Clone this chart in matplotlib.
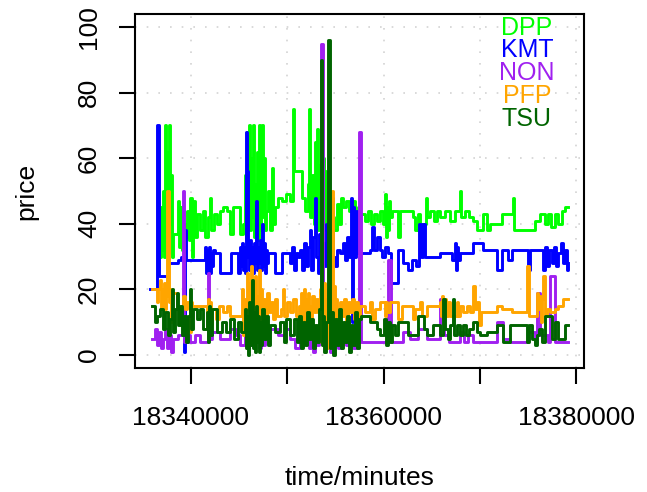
import numpy as np
import matplotlib
matplotlib.use("Agg")
import matplotlib.pyplot as plt

plt.rcParams['font.family'] = ['Liberation Sans', 'DejaVu Sans']

dpp_t = [18336.78, 18336.89, 18336.99, 18337.10, 18337.20, 18337.30, 18337.41, 18337.51, 18337.61, 18337.72,
         18337.82, 18337.93, 18338.03, 18338.13, 18338.65, 18338.76, 18338.86, 18339.07, 18339.17, 18339.38,
         18339.59, 18339.79, 18339.90, 18340.10, 18340.21, 18340.41, 18340.62, 18340.93, 18341.24, 18341.45,
         18341.76, 18341.97, 18342.07, 18342.39, 18342.70, 18343.01, 18343.32, 18343.73, 18344.05, 18344.36,
         18345.08, 18345.39, 18345.60, 18345.71, 18345.81, 18345.91, 18346.02, 18346.12, 18346.22, 18346.33,
         18346.43, 18346.54, 18346.64, 18346.74, 18346.85, 18346.95, 18347.05, 18347.16, 18347.26, 18347.36,
         18347.47, 18347.57, 18347.68, 18347.78, 18347.99, 18348.19, 18348.40, 18348.51, 18348.71, 18349.02,
         18349.44, 18349.85, 18350.27, 18350.58, 18350.68, 18351.51, 18351.83, 18352.14, 18352.24, 18352.34,
         18352.55, 18352.76, 18352.86, 18352.97, 18353.07, 18353.17, 18353.28, 18353.38, 18353.48, 18353.59,
         18353.69, 18353.80, 18353.90, 18354.00, 18354.11, 18354.21, 18354.31, 18354.52, 18354.63, 18354.83,
         18355.14, 18355.35, 18355.56, 18355.77, 18356.08, 18356.39, 18356.70, 18357.01, 18357.32, 18357.53,
         18358.05, 18358.36, 18358.67, 18358.98, 18359.29, 18359.61, 18359.92, 18360.12, 18360.23, 18360.33,
         18360.43, 18360.54, 18360.64, 18360.85, 18361.47, 18361.68, 18363.03, 18363.24, 18363.55, 18363.75,
         18364.38, 18364.48, 18364.79, 18365.21, 18365.52, 18365.83, 18366.35, 18366.87, 18367.38, 18367.90,
         18368.01, 18368.42, 18368.84, 18369.25, 18369.67, 18370.29, 18370.71, 18371.02, 18372.26, 18373.40,
         18373.51, 18375.68, 18376.20, 18376.72, 18377.03, 18377.34, 18377.76, 18378.07, 18378.48, 18378.80,
         18379.11]
dpp_v = [30, 45, 32, 50, 30, 70, 35, 62, 31, 70,
         40, 55, 30, 37, 47, 33, 45, 32, 40, 36,
         44, 35, 48, 30, 47, 36, 43, 38, 44, 36,
         42, 48, 38, 43, 40, 44, 45, 44, 37, 45,
         37, 40, 55, 35, 68, 40, 70, 38, 60, 42,
         70, 36, 52, 40, 62, 35, 70, 38, 48, 70,
         42, 60, 38, 44, 50, 38, 57, 40, 45, 48,
         47, 49, 47, 75, 56, 48, 44, 52, 75, 42,
         55, 40, 65, 45, 69, 38, 58, 44, 66, 40,
         60, 45, 56, 38, 52, 42, 48, 40, 42, 38,
         46, 40, 48, 45, 47, 44, 47, 43, 45, 43,
         41, 44, 40, 43, 41, 44, 40, 49, 36, 45,
         38, 47, 42, 44, 36, 44, 42, 38, 43, 40,
         48, 42, 44, 41, 44, 42, 44, 41, 44, 50,
         42, 44, 42, 41, 38, 43, 38, 40, 43, 48,
         38, 41, 43, 40, 43, 39, 43, 40, 44, 45,
         45]

kmt_t = [18335.75, 18336.47, 18336.68, 18337.61, 18338.65, 18338.96, 18339.27, 18339.38, 18339.48,
         18341.45, 18341.56, 18341.66, 18341.76, 18341.87, 18341.97, 18342.07, 18342.18, 18342.28, 18342.49,
         18343.01, 18344.15, 18344.88, 18345.08, 18345.19, 18345.29, 18345.39, 18345.50, 18345.60, 18345.71,
         18345.81, 18345.91, 18346.02, 18346.12, 18346.22, 18346.33, 18346.43, 18346.54, 18346.64, 18346.74,
         18346.85, 18346.95, 18347.05, 18347.16, 18347.26, 18347.36, 18347.47, 18347.57, 18347.68, 18347.78,
         18347.88, 18347.99, 18348.71, 18349.44, 18350.27, 18350.48, 18350.68, 18350.89, 18351.10, 18351.31,
         18351.51, 18351.72, 18351.93, 18352.14, 18352.34, 18352.45, 18352.66, 18352.86, 18352.97, 18353.17,
         18353.28, 18353.48, 18353.69, 18353.90, 18354.00, 18354.21, 18354.31, 18354.52, 18354.63, 18354.73,
         18354.94, 18355.14, 18355.46, 18355.77, 18355.97, 18356.18, 18356.39, 18356.60, 18356.70, 18356.80,
         18356.91, 18357.12, 18357.22, 18357.43, 18357.53, 18358.57, 18358.78, 18358.98, 18359.29, 18359.61,
         18359.81, 18360.12, 18360.43, 18360.75, 18361.47, 18361.99, 18362.51, 18362.92, 18363.34, 18363.65,
         18363.86, 18364.07, 18364.27, 18365.83, 18367.07, 18367.38, 18367.49, 18367.59, 18367.70, 18367.90,
         18369.25, 18370.29, 18371.74, 18372.26, 18372.88, 18373.30, 18374.96, 18375.16, 18376.51, 18376.72,
         18376.93, 18377.14, 18377.45, 18377.65, 18377.86, 18378.07, 18378.38, 18378.59, 18378.80, 18379.00,
         18379.11]
kmt_v = [20, 70, 24, 28, 29, 30, 1, 38, 29,
         33, 25, 32, 26, 33, 25, 31, 27, 32, 31,
         25, 31, 25, 33, 27, 34, 26, 33, 25, 68,
         56, 30, 26, 35, 27, 33, 25, 34, 28, 47,
         26, 33, 28, 35, 26, 40, 27, 34, 25, 32,
         28, 31, 25, 31, 28, 33, 26, 31, 30, 32,
         26, 34, 27, 33, 38, 26, 36, 48, 30, 25,
         37, 28, 34, 27, 40, 29, 33, 26, 48, 30,
         27, 32, 31, 34, 29, 36, 30, 48, 10, 45,
         30, 44, 31, 35, 31, 32, 39, 32, 36, 32,
         30, 33, 31, 22, 32, 28, 26, 29, 27, 40,
         30, 40, 30, 31, 29, 34, 26, 33, 29, 31,
         34, 32, 26, 32, 29, 32, 26, 32, 26, 33,
         27, 32, 28, 33, 27, 31, 34, 28, 32, 26,
         28]

non_t = [18335.95, 18336.27, 18336.47, 18336.68, 18336.89, 18337.10, 18337.30, 18337.51, 18337.72, 18337.93,
         18338.13, 18338.65, 18339.17, 18339.27, 18339.69, 18339.90, 18340.41, 18340.93, 18341.76, 18341.87,
         18342.18, 18343.01, 18344.05, 18344.67, 18345.08, 18345.60, 18345.81, 18346.02, 18346.22, 18346.43,
         18346.64, 18346.85, 18347.05, 18347.26, 18347.47, 18347.68, 18348.19, 18349.02, 18349.75, 18350.27,
         18350.79, 18351.31, 18351.83, 18352.03, 18352.24, 18352.45, 18352.66, 18352.86, 18353.07, 18353.28,
         18353.48, 18353.69, 18354.00, 18354.42, 18354.83, 18355.25, 18355.66, 18356.08, 18356.49, 18356.80,
         18357.12, 18357.43, 18357.63, 18360.43, 18360.75, 18361.99, 18362.72, 18363.55, 18364.48, 18365.83,
         18366.24, 18366.76, 18367.90, 18368.32, 18368.73, 18369.25, 18371.74, 18372.37, 18373.09, 18374.96,
         18375.68, 18375.89, 18376.20, 18377.03, 18377.24, 18377.76, 18379.11]
non_v = [5, 8, 3, 7, 2, 5, 8, 2, 6, 1,
         5, 6, 50, 4, 6, 4, 6, 4, 25, 5,
         7, 5, 8, 6, 3, 8, 2, 7, 3, 9,
         4, 8, 2, 6, 3, 7, 8, 6, 8, 5,
         2, 7, 4, 10, 2, 8, 1, 6, 3, 9,
         95, 3, 6, 1, 5, 2, 6, 3, 8, 2,
         6, 68, 4, 29, 4, 7, 5, 8, 5, 17,
         6, 4, 7, 4, 6, 4, 10, 5, 4, 7,
         4, 19, 6, 4, 24, 4, 4]

pfp_t = [18335.95, 18336.47, 18336.58, 18336.78, 18336.89, 18336.99, 18337.10, 18337.20, 18337.30, 18337.41,
         18337.51, 18337.72, 18337.82, 18337.93, 18338.03, 18338.13, 18338.55, 18338.86, 18338.96, 18339.17,
         18339.38, 18339.59, 18339.90, 18340.00, 18340.10, 18341.66, 18341.76, 18341.87, 18341.97, 18342.07,
         18342.18, 18342.59, 18342.90, 18343.32, 18343.73, 18344.05, 18345.29, 18345.39, 18345.50, 18345.60,
         18345.81, 18345.91, 18346.02, 18346.12, 18346.22, 18346.33, 18346.43, 18346.54, 18346.64, 18346.74,
         18346.85, 18346.95, 18347.05, 18347.16, 18347.26, 18347.36, 18347.47, 18347.68, 18347.88, 18348.09,
         18348.30, 18348.51, 18348.71, 18348.92, 18349.34, 18349.54, 18349.65, 18349.96, 18350.27, 18350.58,
         18350.89, 18351.20, 18351.31, 18351.41, 18351.51, 18351.62, 18351.72, 18351.83, 18351.93, 18352.03,
         18352.14, 18352.24, 18352.34, 18352.45, 18352.55, 18352.76, 18352.97, 18353.17, 18353.38, 18353.48,
         18353.59, 18353.69, 18353.80, 18353.90, 18354.00, 18354.11, 18354.21, 18354.31, 18354.42, 18354.52,
         18354.63, 18354.73, 18354.83, 18354.94, 18355.04, 18355.14, 18355.46, 18355.66, 18355.87, 18356.08,
         18356.29, 18356.49, 18356.70, 18356.91, 18357.12, 18357.32, 18357.53, 18358.05, 18358.57, 18358.78,
         18359.09, 18359.61, 18360.12, 18360.23, 18360.33, 18360.64, 18361.47, 18361.89, 18363.03, 18363.24,
         18363.75, 18363.96, 18364.48, 18365.83, 18365.93, 18366.04, 18366.14, 18366.24, 18366.45, 18366.66,
         18366.87, 18367.59, 18367.70, 18367.90, 18368.21, 18368.63, 18368.94, 18369.25, 18369.46, 18369.67,
         18369.88, 18370.08, 18371.74, 18372.26, 18373.30, 18374.85, 18375.06, 18375.89, 18375.99, 18376.20,
         18376.31, 18376.41, 18376.51, 18376.72, 18376.93, 18377.24, 18377.76, 18378.07, 18378.59, 18379.11]
pfp_v = [20, 16, 20, 23, 14, 20, 15, 22, 14, 18,
         50, 16, 20, 10, 17, 19, 14, 9, 15, 18,
         14, 16, 7, 16, 15, 8, 17, 7, 16, 9,
         14, 11, 15, 13, 15, 12, 20, 6, 17, 13,
         25, 8, 22, 5, 27, 10, 20, 6, 24, 12,
         18, 7, 26, 10, 20, 8, 17, 12, 19, 13,
         16, 11, 17, 12, 14, 20, 12, 16, 13, 17,
         12, 15, 10, 19, 8, 16, 20, 9, 17, 12,
         19, 7, 15, 11, 18, 13, 17, 13, 20, 4,
         18, 8, 22, 6, 17, 2, 20, 9, 19, 5,
         50, 12, 21, 7, 17, 11, 16, 12, 17, 10,
         16, 13, 17, 11, 16, 12, 15, 13, 16, 11,
         14, 16, 12, 16, 13, 16, 11, 15, 11, 14,
         16, 12, 15, 16, 12, 18, 11, 17, 12, 16,
         12, 16, 12, 15, 13, 15, 13, 21, 14, 16,
         9, 13, 15, 14, 13, 27, 12, 19, 14, 18,
         10, 17, 24, 12, 14, 13, 14, 15, 17, 17]

tsu_t = [18335.95, 18336.27, 18336.47, 18336.78, 18337.10, 18337.30, 18337.61, 18337.82, 18338.03,
         18338.13, 18338.34, 18338.55, 18338.65, 18338.86, 18339.07, 18339.27, 18339.48, 18339.69, 18339.90,
         18340.00, 18340.21, 18340.62, 18340.93, 18341.24, 18341.66, 18341.76, 18341.87, 18341.97, 18342.18,
         18342.70, 18343.22, 18343.63, 18344.05, 18344.46, 18344.88, 18345.19, 18345.60, 18345.71, 18345.81,
         18345.91, 18346.02, 18346.12, 18346.22, 18346.33, 18346.43, 18346.54, 18346.64, 18346.74, 18346.85,
         18346.95, 18347.05, 18347.16, 18347.26, 18347.36, 18347.57, 18347.78, 18347.99, 18348.19, 18348.71,
         18349.23, 18349.65, 18349.85, 18350.27, 18350.68, 18351.00, 18351.20, 18351.41, 18351.62, 18351.83,
         18352.03, 18352.24, 18352.45, 18352.66, 18352.86, 18353.07, 18353.28, 18353.48, 18353.59, 18353.69,
         18353.80, 18354.00, 18354.21, 18354.42, 18354.52, 18354.73, 18354.94, 18355.14, 18355.35, 18355.56,
         18355.77, 18355.97, 18356.18, 18356.39, 18356.60, 18356.80, 18357.01, 18357.22, 18357.43, 18357.63,
         18358.57, 18359.29, 18359.61, 18360.02, 18360.23, 18360.43, 18360.64, 18360.85, 18361.16, 18361.47,
         18362.51, 18363.55, 18364.17, 18364.48, 18365.10, 18365.83, 18366.14, 18366.35, 18366.66, 18366.87,
         18367.18, 18367.28, 18367.59, 18367.90, 18368.21, 18368.53, 18368.84, 18369.25, 18369.67, 18369.98,
         18370.71, 18371.74, 18372.37, 18373.09, 18374.85, 18375.06, 18375.37, 18375.68, 18375.89, 18376.10,
         18376.41, 18376.72, 18377.45, 18377.76, 18378.07, 18378.80, 18379.11]
tsu_v = [15, 10, 12, 14, 8, 13, 6, 11, 20,
         7, 14, 19, 9, 15, 6, 12, 4, 12, 20,
         8, 14, 11, 14, 8, 13, 4, 15, 6, 14,
         7, 10, 7, 11, 5, 10, 7, 14, 2, 12,
         0, 16, 3, 11, 23, 2, 13, 1, 15, 4,
         12, 1, 10, 3, 14, 5, 12, 3, 9, 7,
         10, 4, 11, 6, 11, 4, 12, 2, 10, 3,
         13, 5, 11, 2, 9, 4, 14, 90, 3, 12,
         1, 10, 96, 2, 13, 0, 11, 3, 14, 2,
         10, 4, 12, 1, 9, 3, 13, 2, 11, 12,
         10, 8, 6, 11, 3, 10, 4, 9, 6, 10,
         6, 12, 8, 6, 9, 6, 17, 8, 5, 9,
         17, 6, 9, 6, 9, 6, 8, 10, 7, 6,
         7, 9, 4, 9, 4, 9, 5, 3, 6, 8,
         4, 12, 5, 10, 5, 9, 9]

parties = ["DPP", "KMT", "NON", "PFP", "TSU"]
colors = ["#00FF00", "#0000FF", "#A020F0", "#FFA500", "#006400"]
series = [(dpp_t, dpp_v), (kmt_t, kmt_v), (non_t, non_v), (pfp_t, pfp_v), (tsu_t, tsu_v)]

x_ticks = [18340000, 18350000, 18360000, 18370000, 18380000]
x_labels = ["18340000", "", "18360000", "", "18380000"]
y_ticks = [0, 20, 40, 60, 80, 100]

fig = plt.figure(figsize=(6.47, 4.92), dpi=100)
ax = fig.add_axes([135/647, 1-368/492, 449/647, 354/492])

# dotted grid at the tick marks
for xt in x_ticks:
    ax.axvline(xt, color="#D3D3D3", lw=1.2, ls=(0, (1, 6)), zorder=0)
for yt in y_ticks:
    ax.axhline(yt, color="#D3D3D3", lw=1.2, ls=(0, (1, 6)), zorder=0)

for (t, v), c in zip(series, colors):
    ax.step(np.array(t) * 1000, v, where="post", color=c, lw=2.1)

ax.set_xlim(18334200, 18380800)
ax.set_ylim(-4, 104)
ax.set_xticks(x_ticks)
ax.set_xticklabels(x_labels)
ax.set_yticks(y_ticks)
ax.set_yticklabels([str(y) for y in y_ticks], rotation=90, va="center")
ax.tick_params(direction="out", length=11.5, width=1.5, labelsize=19, pad=13)
ax.tick_params(axis="x", pad=16)
for s in ax.spines.values():
    s.set_linewidth(1.5)

ax.set_xlabel("time/minutes", fontsize=19, labelpad=26)
ax.set_ylabel("price", fontsize=19, labelpad=28)

leg_y = [0.960, 0.898, 0.833, 0.768, 0.703]
for name, c, yy in zip(parties, colors, leg_y):
    ax.text(0.873, yy, name, color=c, fontsize=18, ha="center", va="center",
            transform=ax.transAxes)

plt.savefig("out.png", dpi=100)
